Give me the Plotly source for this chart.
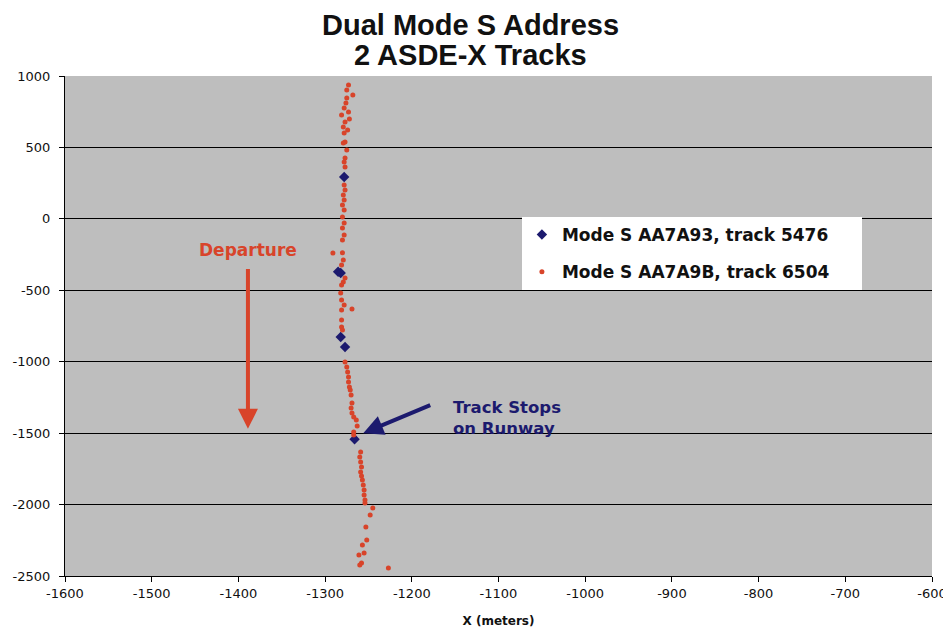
import plotly.graph_objects as go

# Mode S AA7A9B, track 6504 (red)
red_x = [-1273, -1275, -1268, -1275, -1276, -1278, -1273, -1281, -1272, -1277, -1279, -1274, -1278,
         -1277, -1279, -1275, -1277, -1278, -1277, -1278, -1277, -1279, -1278, -1280, -1278, -1280,
         -1278, -1280, -1278, -1280, -1291, -1280, -1279, -1281, -1277, -1279, -1281, -1282, -1281,
         -1278, -1281, -1269, -1281, -1281, -1280, -1277, -1275, -1274, -1273, -1273, -1272, -1271,
         -1270, -1269, -1270, -1269, -1267, -1264, -1263, -1267, -1267, -1259, -1260, -1259, -1258,
         -1259, -1258, -1257, -1256, -1255, -1255, -1254, -1254, -1245, -1248, -1253, -1252, -1257,
         -1255, -1261, -1258, -1260, -1227]
red_y = [937, 902, 867, 846, 811, 776, 748, 727, 699, 678, 643, 622, 601,
         538, 531, 482, 426, 398, 363, 237, 202, 167, 132, 97, 62, 13,
         -29, -64, -113, -148, -239, -237, -288, -323, -414, -442, -463, -519, -568,
         -603, -638, -631, -708, -757, -778, -1002, -1037, -1072, -1107, -1142, -1177, -1198,
         -1233, -1289, -1324, -1359, -1387, -1408, -1450, -1492, -1513, -1632, -1667, -1702, -1737,
         -1772, -1800, -1828, -1863, -1898, -1933, -1968, -1989, -2024, -2073, -2157, -2248, -2283,
         -2339, -2353, -2409, -2423, -2444]

# Mode S AA7A93, track 5476 (blue)
blue_x = [-1278, -1285, -1282, -1282, -1277, -1266]
blue_y = [293, -370, -379, -827, -897, -1543]

x_ticks = [-1600, -1500, -1400, -1300, -1200, -1100, -1000, -900, -800, -700, -600]
x_tick_labels = ["-1600", "-1500", "-1400", "-1300", "-1200", "-1100", "-1000", "-900", "-800", "-700", "-600"]
y_ticks = [1000, 500, 0, -500, -1000, -1500, -2000, -2500]
y_tick_labels = ["1000", "500", "0", "-500", "-1000", "-1500", "-2000", "-2500"]

title_lines = ["Dual Mode S Address", "2 ASDE-X Tracks"]

RED = "#d8442a"
NAVY = "#1c1a6e"
PAD = "&nbsp;" * 5

fig = go.Figure()
fig.add_trace(go.Scatter(x=blue_x, y=blue_y, mode="markers", name="<b>Mode S AA7A93, track 5476</b>" + PAD,
                         legendgroup="a",
                         marker=dict(symbol="diamond", size=8, color=NAVY)))
fig.add_trace(go.Scatter(x=red_x, y=red_y, mode="markers", name="<b>Mode S AA7A9B, track 6504</b>" + PAD,
                         legendgroup="b",
                         marker=dict(symbol="circle", size=5, color=RED)))

# Title (two lines)
fig.add_annotation(x=0.468, y=1.102, xref="paper", yref="paper", text="<b>%s</b>" % title_lines[0],
                   showarrow=False, xanchor="center", yanchor="middle",
                   font=dict(family="Liberation Sans", size=29, color="#111"))
fig.add_annotation(x=0.468, y=1.042, xref="paper", yref="paper", text="<b>%s</b>" % title_lines[1],
                   showarrow=False, xanchor="center", yanchor="middle",
                   font=dict(family="Liberation Sans", size=29, color="#111"))

# Departure arrow
fig.add_annotation(x=-1389, y=-1470, ax=-1389, ay=-340, xref="x", yref="y", axref="x", ayref="y",
                   text="", showarrow=True, arrowhead=2, arrowsize=1, arrowwidth=4, arrowcolor=RED)
fig.add_annotation(x=-1389, y=-215, xref="x", yref="y", text="<b>Departure</b>", showarrow=False,
                   font=dict(family="DejaVu Sans", size=17, color=RED))

# Track stops arrow
fig.add_annotation(x=-1256, y=-1500, ax=-1177, ay=-1300, xref="x", yref="y", axref="x", ayref="y",
                   text="", showarrow=True, arrowhead=2, arrowsize=1, arrowwidth=4, arrowcolor=NAVY)
fig.add_annotation(x=-1155, y=-1395, xref="x", yref="y", text="<b>Track Stops<br>on Runway</b>",
                   showarrow=False, align="left", xanchor="left",
                   font=dict(family="DejaVu Sans", size=16.5, color=NAVY))

fig.update_layout(
    width=943, height=625,
    margin=dict(l=57, r=19, t=68, b=57),
    paper_bgcolor="white", plot_bgcolor="#bebebe",
    legend=dict(x=0.527, y=0.718, xanchor="left", yanchor="top", bgcolor="white",
                font=dict(family="DejaVu Sans", size=17, color="#111"),
                traceorder="grouped", tracegroupgap=12, borderwidth=0),
    showlegend=True,
)

fig.update_xaxes(range=[-1600, -600], tickvals=x_ticks, ticktext=x_tick_labels, automargin=False,
                 ticks="outside", ticklen=5, tickcolor="black",
                 showgrid=False, zeroline=False, showline=True, linecolor="black", linewidth=1,
                 tickfont=dict(family="DejaVu Sans", size=13, color="#111"),
                 title=dict(text="<b>X (meters)</b>", font=dict(family="DejaVu Sans", size=12, color="#111"),
                            standoff=17))
fig.update_yaxes(range=[-2500, 1000], tickvals=y_ticks, ticktext=y_tick_labels, automargin=False,
                 ticks="outside", ticklen=5, tickcolor="black", ticklabelstandoff=6,
                 showgrid=True, gridcolor="black", gridwidth=1, zeroline=False,
                 showline=True, linecolor="black", linewidth=1,
                 tickfont=dict(family="DejaVu Sans", size=13, color="#111"))

fig.write_html("out.html")
